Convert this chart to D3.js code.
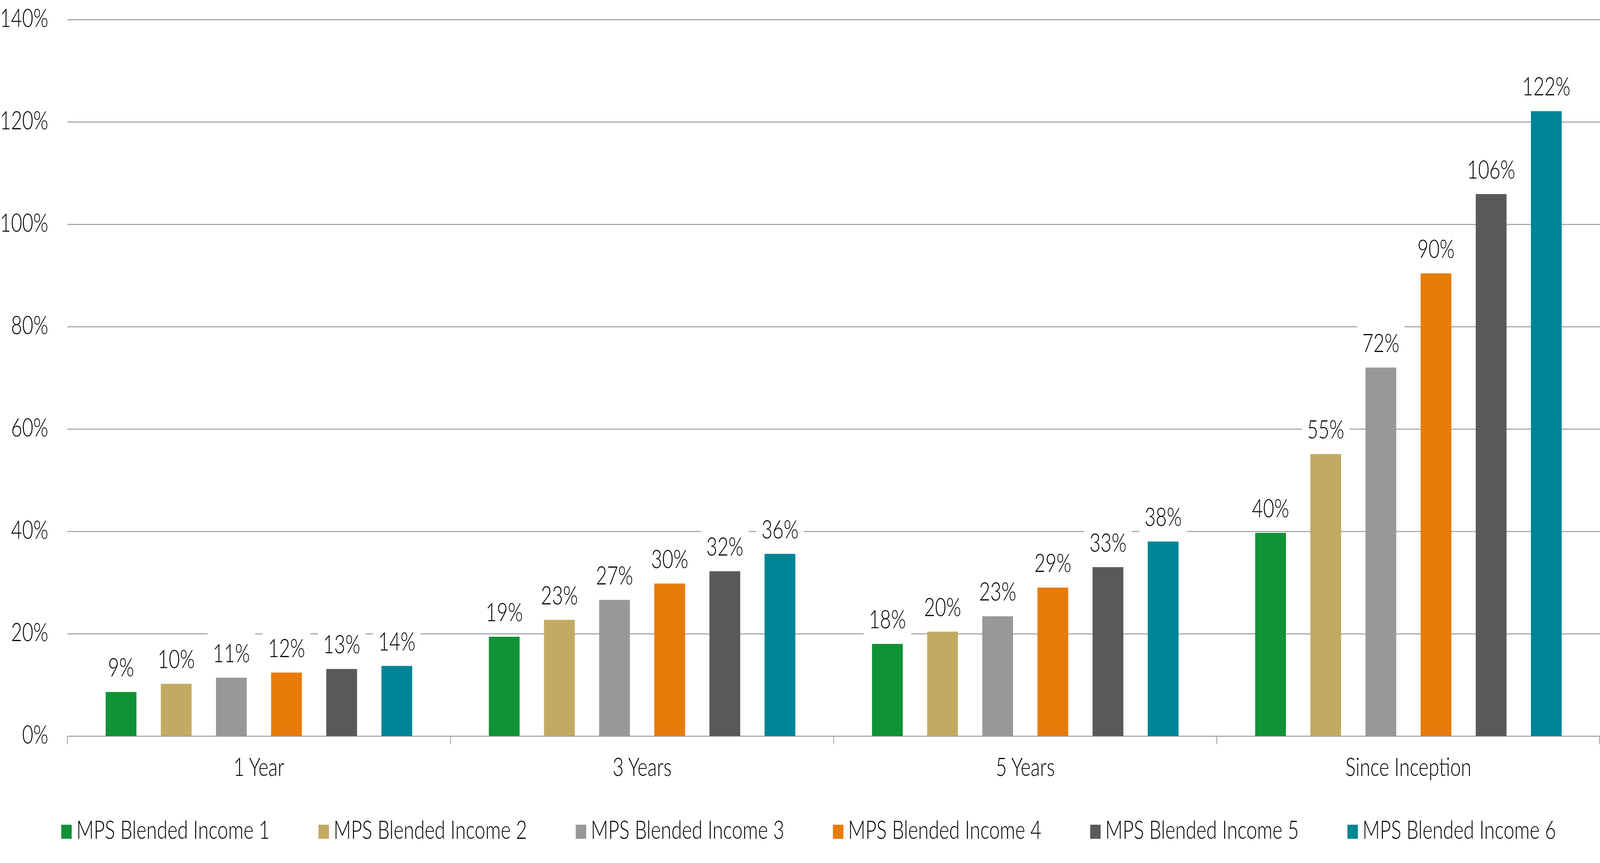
<!DOCTYPE html>
<html>
<head>
<meta charset="utf-8">
<script src="https://cdn.jsdelivr.net/npm/d3@7"></script>
<style>
    html, body { margin: 0; padding: 0; background: #fff; overflow: hidden; }
    svg { display: block; }
    text { font-family: Lato, "Open Sans", sans-serif; font-weight: 300; fill: #000; }
</style>
</head>
<body>
<div id="chart"></div>
<script>
// Categories and series (in %)
const categories = ["1 Year", "3 Years", "5 Years", "Since Inception"];
const seriesNames = [
    "MPS Blended Income 1",
    "MPS Blended Income 2",
    "MPS Blended Income 3",
    "MPS Blended Income 4",
    "MPS Blended Income 5",
    "MPS Blended Income 6"
];
const income1 = [8.6, 19.4, 18.0, 39.7];
const income2 = [10.2, 22.7, 20.4, 55.1];
const income3 = [11.4, 26.6, 23.4, 72.0];
const income4 = [12.4, 29.8, 29.0, 90.4];
const income5 = [13.1, 32.2, 33.0, 105.9];
const income6 = [13.7, 35.6, 38.0, 122.1];
const yTicks = [0, 20, 40, 60, 80, 100, 120, 140];

const seriesValues = [income1, income2, income3, income4, income5, income6];
const colors = ["#109236", "#c2aa63", "#989898", "#e87b0a", "#595959", "#008596"];

// Drawing space is the reference size; the window may be narrower,
// so the viewBox is stretched to fill whatever we get.
const W = 5511, H = 2209;
const margin = { top: 50, right: 0, bottom: 325, left: 232 };
const width = W - margin.left - margin.right;
const height = H - margin.top - margin.bottom;
const gridColor = "#9a9a9a";

const svg = d3.select("#chart").append("svg")
    .attr("viewBox", `0 0 ${W} ${H}`)
    .attr("preserveAspectRatio", "none")
    .style("width", "100vw")
    .style("height", "100vh");

const g = svg.append("g")
    .attr("transform", `translate(${margin.left},${margin.top})`);

// Scales
const x0 = d3.scaleBand().domain(categories).range([0, width]);
const x1 = d3.scaleBand().domain(d3.range(seriesNames.length))
    .range([132, x0.bandwidth() - 132])
    .paddingInner(0.442);
const y = d3.scaleLinear().domain([0, 140]).range([height, 0]);

// Gridlines + y labels
const yAxis = d3.axisLeft(y)
    .tickValues(yTicks)
    .tickFormat(d => d3.format(".0%")(d / 100))
    .tickSize(-width)
    .tickPadding(66);

const yg = g.append("g").call(yAxis);
yg.select(".domain").remove();
yg.selectAll(".tick line").attr("stroke", gridColor).attr("stroke-width", 2.5);
yg.selectAll(".tick text")
    .attr("dy", 18)
    .style("font-size", "66px")
    .style("font-family", "Lato, sans-serif")
    .attr("fill", "#000");

// Category boundary ticks below the zero line
const bounds = categories.map(c => x0(c)).concat([x0(categories[categories.length - 1]) + x0.bandwidth()]);
g.append("g").selectAll("line")
    .data(bounds)
    .join("line")
    .attr("x1", d => Math.min(d, width - 2))
    .attr("x2", d => Math.min(d, width - 2))
    .attr("y1", y(0))
    .attr("y2", y(0) + 21)
    .attr("stroke", gridColor)
    .attr("stroke-width", 2.5);

// Category labels
g.append("g").selectAll("text")
    .data(categories)
    .join("text")
    .attr("x", d => x0(d) + x0.bandwidth() / 2)
    .attr("y", y(0) + 102)
    .attr("text-anchor", "middle")
    .style("font-size", "66px")
    .text(d => d);

// Bars
const groups = g.append("g").selectAll("g")
    .data(categories)
    .join("g")
    .attr("transform", d => `translate(${x0(d)},0)`);

groups.selectAll("rect")
    .data((c, ci) => seriesValues.map((vals, si) => ({ si, v: vals[ci] })))
    .join("rect")
    .attr("x", d => x1(d.si))
    .attr("width", x1.bandwidth())
    .attr("y", d => y(d.v))
    .attr("height", d => y(0) - y(d.v))
    .attr("fill", d => colors[d.si]);

// Data labels with white boxes (hide gridlines behind them)
const labelLayer = g.append("g");
categories.forEach((c, ci) => {
    seriesValues.forEach((vals, si) => {
        const v = vals[ci];
        const cx = x0(c) + x1(si) + x1.bandwidth() / 2;
        const lg = labelLayer.append("g");
        const box = lg.append("rect").attr("fill", "#fff");
        const t = lg.append("text")
            .attr("x", cx)
            .attr("y", y(v) - 40)
            .attr("text-anchor", "middle")
            .style("font-size", "66px")
            .text(d3.format(".0f")(v) + "%");
        const bb = t.node().getBBox();
        box.attr("x", bb.x - 18)
            .attr("y", bb.y - 10)
            .attr("width", bb.width + 36)
            .attr("height", bb.height + 14);
    });
});

// Legend
const legend = svg.append("g")
    .attr("transform", `translate(211,2111)`);

const items = legend.selectAll("g")
    .data(seriesNames)
    .join("g")
    .attr("transform", (d, i) => `translate(${i * 886},0)`);

items.append("rect")
    .attr("width", 36)
    .attr("height", 36)
    .attr("fill", (d, i) => colors[i]);

items.append("text")
    .attr("x", 52)
    .attr("y", 36)
    .style("font-size", "66px")
    .text(d => d);
</script>
</body>
</html>
